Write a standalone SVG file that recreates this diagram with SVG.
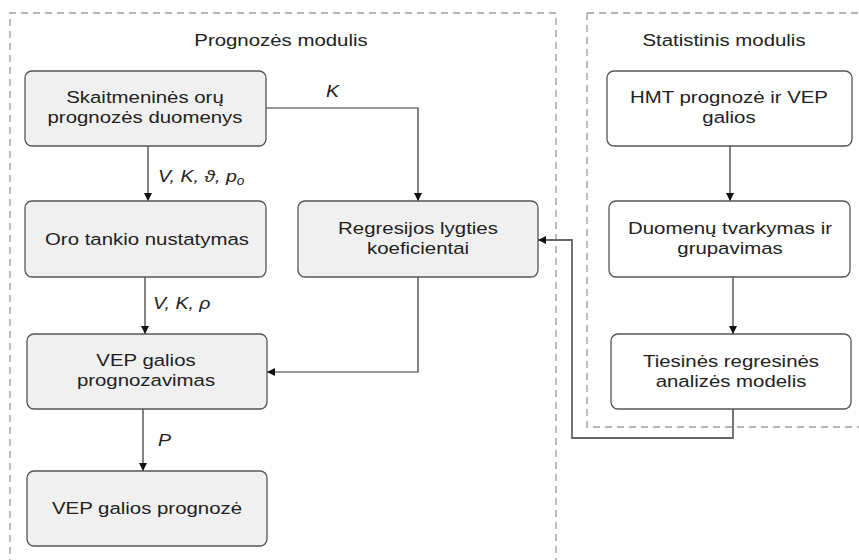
<svg xmlns="http://www.w3.org/2000/svg" width="859" height="560" viewBox="0 0 859 560">
  <style>
    .frame { fill: none; stroke: #9a9a9a; stroke-width: 1.3; stroke-dasharray: 7 5; }
    .box { fill: #f0f0f0; stroke: #555; stroke-width: 1.3; }
    .box-w { fill: #fff; stroke: #555; stroke-width: 1.3; }
    .t { font-family: "Liberation Sans", Arial, sans-serif; font-size: 17px; fill: #222; text-anchor: middle; }
    .lbl { font-family: "Liberation Sans", Arial, sans-serif; font-size: 17px; font-style: italic; fill: #222; }
    .ln { fill: none; stroke: #333; stroke-width: 1.2; marker-end: url(#ah); }
    .ln2 { fill: none; stroke: #666; stroke-width: 1.8; marker-end: url(#ah); }
  </style>
  <defs>
    <marker id="ah" viewBox="0 0 10 10" refX="10" refY="5" markerWidth="8" markerHeight="8" markerUnits="userSpaceOnUse" orient="auto">
      <path d="M0,0 L10,5 L0,10 Z" fill="#111"/>
    </marker>
  </defs>
  <rect width="859" height="560" fill="#fff"/>

  <!-- module frames; all text is drawn slightly widened (scale 1.2 × 1) -->
  <g id="frames">
    <path class="frame" d="M10,566 V13 H556 V566"/>
    <path class="frame" d="M587,13 H866 M587,13 V427 H866"/>
    <text class="t" transform="translate(281 46) scale(1.2 1)">Prognozės modulis</text>
    <text class="t" transform="translate(724 46) scale(1.2 1)">Statistinis modulis</text>
  </g>

  <!-- connectors -->
  <g id="connectors">
    <path class="ln" d="M148,146 V201"/>
    <path class="ln" d="M266,108 H418 V201"/>
    <path class="ln" d="M145,277 V334"/>
    <path class="ln" d="M418,277 V372 H267"/>
    <path class="ln" d="M143,409 V471"/>
    <path class="ln" d="M730,146 V201"/>
    <path class="ln" d="M733,277 V334"/>
    <path class="ln2" d="M733,409 V438 H572 V240 H538"/>
    <text class="lbl" transform="translate(158 182) scale(1.15 1)">V, K, ϑ, p<tspan font-size="12" dy="3">o</tspan></text>
    <text class="lbl" transform="translate(326 97) scale(1.15 1)">K</text>
    <text class="lbl" transform="translate(153 309) scale(1.15 1)">V, K, ρ</text>
    <text class="lbl" transform="translate(158 446) scale(1.15 1)">P</text>
  </g>

  <g id="n1">
    <rect class="box" x="25" y="71" width="241" height="75" rx="7"/>
    <text class="t" transform="translate(145 103) scale(1.2 1)">Skaitmeninės orų</text>
    <text class="t" transform="translate(145 123) scale(1.2 1)">prognozės duomenys</text>
  </g>
  <g id="n2">
    <rect class="box" x="25" y="201" width="241" height="76" rx="7"/>
    <text class="t" transform="translate(147 245) scale(1.2 1)">Oro tankio nustatymas</text>
  </g>
  <g id="n3">
    <rect class="box" x="298" y="201" width="240" height="76" rx="7"/>
    <text class="t" transform="translate(418 234) scale(1.2 1)">Regresijos lygties</text>
    <text class="t" transform="translate(418 254) scale(1.2 1)">koeficientai</text>
  </g>
  <g id="n4">
    <rect class="box" x="27" y="334" width="240" height="75" rx="7"/>
    <text class="t" transform="translate(146 366) scale(1.2 1)">VEP galios</text>
    <text class="t" transform="translate(146 386) scale(1.2 1)">prognozavimas</text>
  </g>
  <g id="n5">
    <rect class="box" x="27" y="471" width="240" height="75" rx="7"/>
    <text class="t" transform="translate(147 514) scale(1.2 1)">VEP galios prognozė</text>
  </g>
  <g id="n6">
    <rect class="box-w" x="607" y="71" width="245" height="75" rx="7"/>
    <text class="t" transform="translate(729 103) scale(1.2 1)">HMT prognozė ir VEP</text>
    <text class="t" transform="translate(729 123) scale(1.2 1)">galios</text>
  </g>
  <g id="n7">
    <rect class="box-w" x="609" y="201" width="241" height="76" rx="7"/>
    <text class="t" transform="translate(730 234) scale(1.2 1)">Duomenų tvarkymas ir</text>
    <text class="t" transform="translate(730 254) scale(1.2 1)">grupavimas</text>
  </g>
  <g id="n8">
    <rect class="box-w" x="611" y="334" width="240" height="75" rx="7"/>
    <text class="t" transform="translate(731 367) scale(1.2 1)">Tiesinės regresinės</text>
    <text class="t" transform="translate(731 387) scale(1.2 1)">analizės modelis</text>
  </g>
</svg>
